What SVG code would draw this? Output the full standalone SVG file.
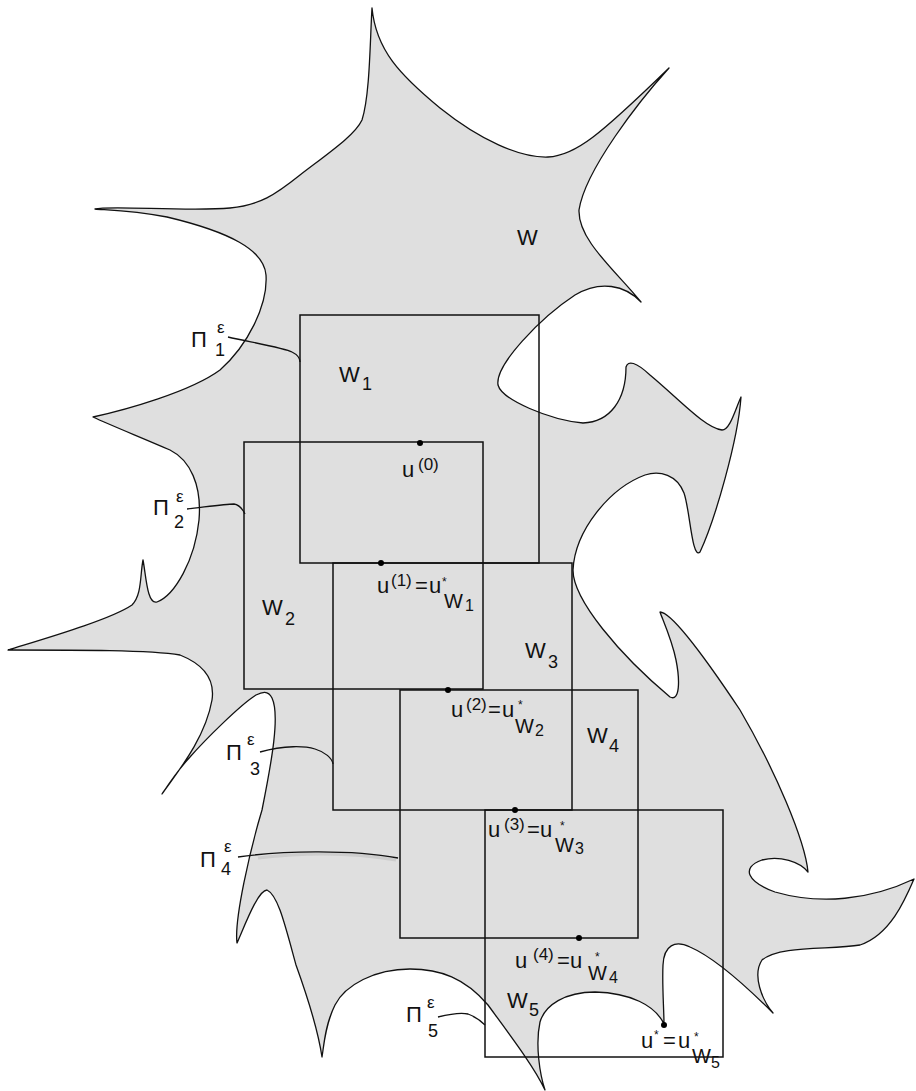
<svg xmlns="http://www.w3.org/2000/svg" width="916" height="1091" viewBox="0 0 916 1091">
<style>
.blob{fill:#dfdfdf;stroke:#111;stroke-width:1.3;stroke-linejoin:round}
.box{fill:none;stroke:#111;stroke-width:1.5}
.lead{fill:none;stroke:#111;stroke-width:1.3}
.dot{fill:#000}
text{font-family:"Liberation Sans",Arial,sans-serif;fill:#111}
.m{font-size:22px}
.sup{font-size:17px}
.sub{font-size:18px}
.sw{font-size:20px}
.ss{font-size:16px}
.st{font-size:12px}
.ep{font-size:17px}
</style>
<rect width="916" height="1091" fill="#fff"/>
<g id="domain">
<path class="blob" d="M372,8 C376,50 400,75 440,108 C480,140 520,158 548,157 C575,156 600,135 669,68
C640,100 585,170 579,210 C578,240 615,270 641,302
C625,285 600,280 575,295 C540,318 495,365 498,385 C502,400 550,420 583,423 C610,422 626,400 626,367
C628,360 636,362 650,375 C680,400 705,428 722,430 C730,430 735,410 741,397
C738,440 715,520 700,552 C692,560 690,510 684,493 C677,475 660,470 645,475 C610,488 575,530 573,570 C573,600 620,655 670,697
C680,702 680,680 676,660 C672,640 662,618 660,612
C670,612 700,650 740,710 C775,770 805,840 808,872
C800,862 780,855 762,860 C740,868 748,882 775,892 C820,905 870,900 914,879
C905,900 890,935 860,945 C830,950 780,945 762,960 C752,975 762,1000 773,1013
C760,1000 720,960 690,947 C675,940 664,945 663,965 C662,985 664,1010 664,1024
C655,1005 630,993 595,992 C565,992 545,1005 540,1022 C535,1045 540,1075 545,1090
C535,1068 510,1035 488,1005 C465,978 440,969 410,969 C375,969 345,985 335,1005 C325,1025 324,1045 322,1057
C318,1030 305,990 296,965 C285,925 278,895 267,890
C258,890 245,925 237,943
C234,920 250,850 262,810 C272,760 280,715 272,698 C268,690 262,692 256,695
C240,705 205,740 190,757 C178,770 168,785 162,794
C175,775 205,740 212,700 C215,680 205,665 180,655
C150,650 80,650 8,650
C40,640 110,620 132,605 C142,595 140,575 143,560
C146,575 147,605 157,602 C175,595 195,560 199,520 C202,485 190,460 170,450 C140,437 110,425 93,417
C125,410 190,392 220,370 C248,345 268,305 266,275 C264,250 230,232 167,217 C130,210 105,210 95,209
C110,205 190,212 230,208 C260,205 275,195 300,175 C330,152 355,135 362,120 C370,95 370,40 372,8 Z"/>
<text class="m" x="517" y="245">W</text>
</g>
<g id="W1">
<rect class="box" x="300" y="315" width="239" height="248"/>
<text class="m" x="339" y="382">W</text><text class="sub" x="362" y="390">1</text>
</g>
<g id="W2">
<rect class="box" x="244" y="442" width="239" height="247"/>
<text class="m" x="262" y="615">W</text><text class="sub" x="285" y="625">2</text>
</g>
<g id="W3">
<rect class="box" x="333" y="563" width="239" height="247"/>
<text class="m" x="525" y="658">W</text><text class="sub" x="548" y="668">3</text>
</g>
<g id="W4">
<rect class="box" x="400" y="690" width="238" height="248"/>
<text class="m" x="587" y="743">W</text><text class="sub" x="609" y="752">4</text>
</g>
<g id="W5">
<rect class="box" x="485" y="810" width="238" height="247"/>
<text class="m" x="507" y="1008">W</text><text class="sub" x="529" y="1016">5</text>
</g>
<g id="connectors">
<path class="lead" d="M228,337 C250,342 285,348 292,352 C298,355 300,358 300,362"/>
<path class="lead" d="M187,509 C205,507 225,504 234,504 C240,505 243,510 245,514"/>
<path class="lead" d="M260,752 C285,745 305,746 315,749 C325,752 332,758 333,764"/>
<path fill="none" stroke="#c4c4c4" stroke-width="3" opacity="0.7" d="M258,858 C300,853 350,852 396,860"/>
<path class="lead" d="M238,857 C280,851 350,849 398,858"/>
<path class="lead" d="M438,1017 C450,1014 460,1012 468,1014 C476,1017 481,1021 485,1025"/>
</g>
<g id="P1"><text class="m" x="191" y="347">Π</text><text class="ep" x="217" y="333">ε</text><text class="sub" x="215" y="356">1</text></g>
<g id="P2"><text class="m" x="153" y="515">Π</text><text class="ep" x="176" y="502">ε</text><text class="sub" x="174" y="528">2</text></g>
<g id="P3"><text class="m" x="226" y="760">Π</text><text class="ep" x="247" y="745">ε</text><text class="sub" x="250" y="775">3</text></g>
<g id="P4"><text class="m" x="200" y="867">Π</text><text class="ep" x="224" y="852">ε</text><text class="sub" x="221" y="875">4</text></g>
<g id="P5"><text class="m" x="406" y="1022">Π</text><text class="ep" x="427" y="1008">ε</text><text class="sub" x="428" y="1037">5</text></g>
<g id="u0"><circle class="dot" cx="420" cy="443" r="3"/>
<text class="m" x="402" y="477">u</text><text class="sup" x="418" y="470">(0)</text></g>
<g id="u1"><circle class="dot" cx="381" cy="563" r="3"/>
<text class="m" x="377" y="593">u</text><text class="sup" x="391" y="586">(1)</text><text class="m" x="415" y="593">=</text><text class="m" x="429" y="593">u</text><text class="st" x="442" y="586">*</text><text class="sw" x="444" y="608">W</text><text class="ss" x="465" y="611">1</text></g>
<g id="u2"><circle class="dot" cx="448" cy="690" r="3"/>
<text class="m" x="451" y="717">u</text><text class="sup" x="466" y="710">(2)</text><text class="m" x="488" y="717">=</text><text class="m" x="502" y="717">u</text><text class="st" x="518" y="709">*</text><text class="sw" x="515" y="733">W</text><text class="ss" x="535" y="736">2</text></g>
<g id="u3"><circle class="dot" cx="515" cy="810" r="3"/>
<text class="m" x="488" y="837">u</text><text class="sup" x="504" y="830">(3)</text><text class="m" x="527" y="837">=</text><text class="m" x="540" y="837">u</text><text class="st" x="560" y="830">*</text><text class="sw" x="555" y="852">W</text><text class="ss" x="575" y="854">3</text></g>
<g id="u4"><circle class="dot" cx="579" cy="938" r="3"/>
<text class="m" x="515" y="968">u</text><text class="sup" x="533" y="960">(4)</text><text class="m" x="557" y="968">=</text><text class="m" x="570" y="968">u</text><text class="st" x="595" y="961">*</text><text class="sw" x="588" y="980">W</text><text class="ss" x="609" y="983">4</text></g>
<g id="u5"><circle class="dot" cx="664" cy="1025" r="3"/>
<text class="m" x="641" y="1048">u</text><text class="st" x="654" y="1039">*</text><text class="m" x="663" y="1048">=</text><text class="m" x="678" y="1048">u</text><text class="st" x="694" y="1041">*</text><text class="sw" x="692" y="1063">W</text><text class="ss" x="711" y="1068">5</text></g>
</svg>
